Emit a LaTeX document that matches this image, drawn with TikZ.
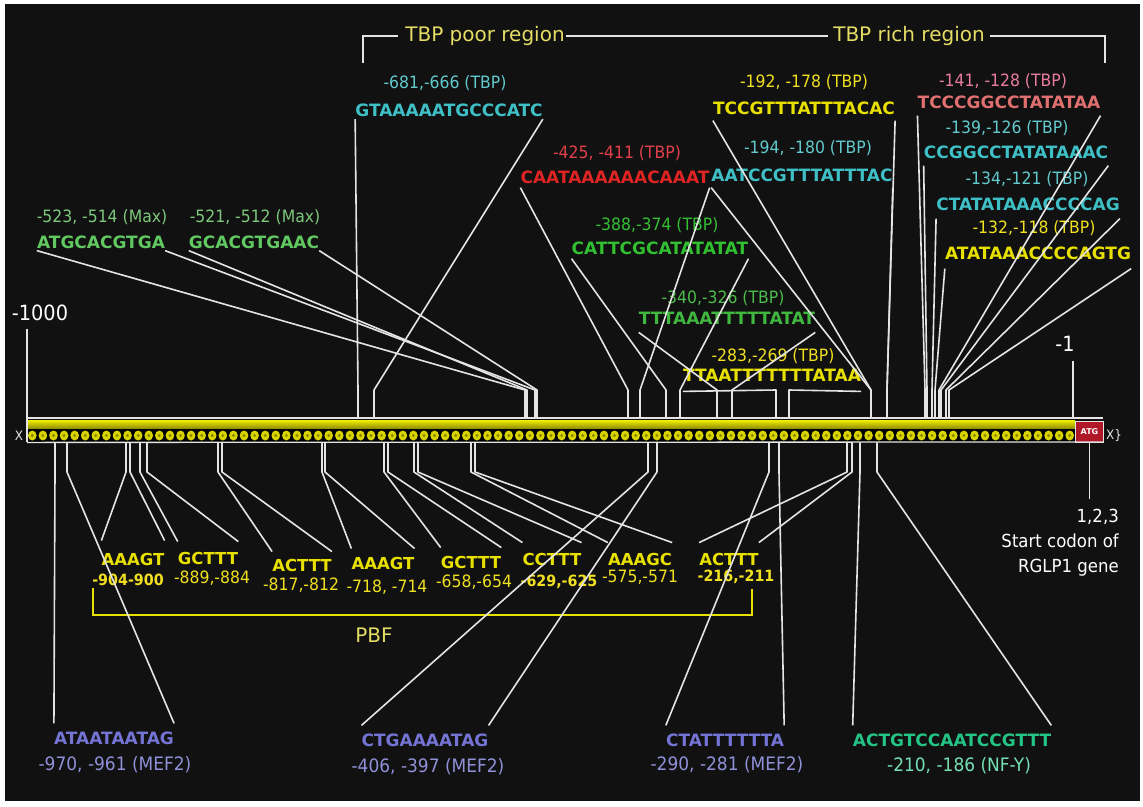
\documentclass[tikz,border=0pt]{standalone}
\usepackage{fontspec}
\setmainfont{DejaVu Sans}
\newfontfamily\numf[FakeStretch=0.92]{DejaVu Sans}
\newfontfamily\seqf{DejaVu Sans}
\definecolor{bg}{HTML}{111111}
\definecolor{lnc}{HTML}{E4E4E4}
\definecolor{maxN}{HTML}{7CC87C}
\definecolor{maxS}{HTML}{62C862}
\definecolor{cyN}{HTML}{62CACC}
\definecolor{cyS}{HTML}{3EC0C6}
\definecolor{redN}{HTML}{E0404C}
\definecolor{redS}{HTML}{E02424}
\definecolor{yelN}{HTML}{F0E020}
\definecolor{yelS}{HTML}{E8E000}
\definecolor{pinkN}{HTML}{E87CA0}
\definecolor{pinkS}{HTML}{E07070}
\definecolor{grN}{HTML}{34C034}
\definecolor{grS}{HTML}{30C030}
\definecolor{grbN}{HTML}{4CBC4C}
\definecolor{grbS}{HTML}{40B840}
\definecolor{mefN}{HTML}{9090D8}
\definecolor{mefS}{HTML}{7474D4}
\definecolor{nfN}{HTML}{74E0B4}
\definecolor{nfS}{HTML}{24C484}
\definecolor{regc}{HTML}{E4DC64}
\definecolor{atgred}{HTML}{B01828}
\definecolor{barY}{HTML}{F2F000}
\definecolor{barO}{HTML}{8A8600}
\definecolor{beadY}{HTML}{D8D400}
\begin{document}
\begin{tikzpicture}[x=1pt,y=-1pt,
  num/.style={inner sep=0pt, font=\numf\fontsize{17}{17}\selectfont},
  seq/.style={inner sep=0pt, font=\seqf\bfseries\fontsize{17}{17}\selectfont},
  bseq/.style={inner sep=0pt, text=yelS, font=\seqf\bfseries\fontsize{16.5}{16.5}\selectfont},
  bnum/.style={inner sep=0pt, text=yelN, font=\numf\fontsize{17}{17}\selectfont},
  bnumb/.style={inner sep=0pt, text=yelN, font=\numf\bfseries\fontsize{15.5}{15.5}\selectfont},
  mseq/.style={inner sep=0pt, font=\seqf\bfseries\fontsize{17}{17}\selectfont},
  mnum/.style={inner sep=0pt, font=\numf\fontsize{18.5}{18.5}\selectfont},
  wlbl/.style={inner sep=0pt, text=white, font=\numf\fontsize{18}{25}\selectfont},
  conn/.style={draw=lnc, line width=1.6pt, line join=round},
  brk/.style={draw=lnc, line width=2pt},
  region/.style={inner sep=5pt, text=regc, font=\fontsize{20}{20}\selectfont},
  pbfline/.style={draw=yelS, line width=2pt}]
\useasboundingbox (0,0) rectangle (1143,806);
\fill[white] (0,0) rectangle (1143,806);
\fill[bg] (5,4) rectangle (1140,801);
% helper coordinates
\coordinate (tb) at (0,390);
\coordinate (bb) at (0,472);
% ---------- bar ----------
\node[inner sep=0pt, minimum width=1048pt, minimum height=24pt, anchor=north west] (bar) at (27,418) {};
\shade[top color=barY, bottom color=barO] (27,420) rectangle (1075,429);
\fill[black] (27,429) rectangle (1075,442);
\foreach \i in {0,...,98} {
  \fill[beadY] ({32.3+10.586*\i},435.5) ellipse [x radius=4.3pt, y radius=5pt];
  \fill[barO] ({32.3+10.586*\i},435.5) circle [radius=1.6pt];
}
\node[minimum width=28pt, minimum height=21pt, inner sep=0pt, fill=atgred, draw=lnc, line width=1pt,
  text=white, font=\seqf\bfseries\fontsize{8}{8}\selectfont, anchor=north west] (atg) at (1075,420.5) {ATG};
\draw[lnc, line width=1.3pt] (bar.north west) -- (1103,418);
\draw[lnc, line width=1.3pt] (bar.south west) -- (1103,442);
\draw[lnc, line width=1.3pt] (bar.north west) -- (bar.south west);
\node[text=lnc, font=\numf\fontsize{13}{13}\selectfont] (xl) at (19,436) {X};
\node[text=lnc, font=\numf\fontsize{13}{13}\selectfont] (xr) at (1114,436) {X\}};
% ---------- region bracket ----------
\node[region] (poor) at (485,36) {TBP poor region};
\node[region] (rich) at (909,36) {TBP rich region};
\coordinate (brL) at (363,63);
\coordinate (brR) at (1105,63);
\draw[brk] ([xshift=-2pt]poor.west) -| (brL);
\draw[brk] ([xshift=-4pt]poor.east) -- (rich.west);
\draw[brk] (rich.east) -| (brR);
% ---------- end labels ----------
\node[inner sep=0pt, text=white, font=\numf\fontsize{21}{21}\selectfont] (m1000) at (40,313) {-1000};
\node[inner sep=0pt, text=white, font=\numf\fontsize{21}{21}\selectfont] (m1) at (1065,344) {-1};
\coordinate (e1000) at (27,0);
\coordinate (e1) at (1073,0);
\coordinate (u1000) at ([yshift=-8pt]m1000.south);
\coordinate (u1) at ([yshift=-9pt]m1.south);
\draw[conn] (e1000 |- u1000) -- (e1000 |- bar.north);
\draw[conn] (e1 |- u1) -- (e1 |- bar.north);
\node[wlbl, align=right, anchor=north east] (start) at (1119,509) {1,2,3\\Start codon of\\RGLP1 gene};
\coordinate (stTop) at ([yshift=10pt]start.north);
\draw[conn] (atg.south) -- (atg.south |- stTop);
% ---------- top labels ----------
\node[num, text=maxN] (n523) at (102,217) {-523, -514 (Max)};
\node[seq, text=maxS] (s523) at (101,242) {ATGCACGTGA};
\node[num, text=maxN] (n521) at (255,217) {-521, -512 (Max)};
\node[seq, text=maxS] (s521) at (254,242) {GCACGTGAAC};
\node[num, text=cyN] (n681) at (445,83) {-681,-666 (TBP)};
\node[seq, text=cyS] (s681) at (449,110) {GTAAAAATGCCCATC};
\node[num, text=cyN] (n194) at (808,148) {-194, -180 (TBP)};
\node[seq, text=cyS] (s194) at (802,175) {AATCCGTTTATTTAC};
\node[num, text=redN] (n425) at (617,153) {-425, -411 (TBP)};
\node[seq, text=redS] (s425) at (615,177) {CAATAAAAAACAAAT};
\node[num, text=yelN] (n192) at (804,82) {-192, -178 (TBP)};
\node[seq, text=yelS] (s192) at (804,108) {TCCGTTTATTTACAC};
\node[num, text=grN] (n388) at (657,225) {-388,-374 (TBP)};
\node[seq, text=grS] (s388) at (660,248) {CATTCGCATATATAT};
\node[num, text=grbN] (n340) at (723,298) {-340,-326 (TBP)};
\node[seq, text=grbS] (s340) at (727,318) {TTTAAATTTTTATAT};
\node[num, text=yelN] (n283) at (773,356) {-283,-269 (TBP)};
\node[seq, text=yelS] (s283) at (772,375) {TTAATTTTTTTATAA};
\node[num, text=pinkN] (n141) at (1003,81) {-141, -128 (TBP)};
\node[seq, text=pinkS] (s141) at (1009,102) {TCCCGGCCTATATAA};
\node[num, text=cyN] (n139) at (1007,128) {-139,-126 (TBP)};
\node[seq, text=cyS] (s139) at (1016,152) {CCGGCCTATATAAAC};
\node[num, text=cyN] (n134) at (1027,179) {-134,-121 (TBP)};
\node[seq, text=cyS] (s134) at (1028,204) {CTATATAAACCCCAG};
\node[num, text=yelN] (n132) at (1034,228) {-132,-118 (TBP)};
\node[seq, text=yelS] (s132) at (1038,253) {ATATAAACCCCAGTG};
% ---------- bottom labels ----------
\node[bseq] (sA1) at (133,559) {AAAGT};
\node[bnumb] (nA1) at (128,580) {-904-900};
\node[bseq] (sG1) at (208,558) {GCTTT};
\node[bnum] (nG1) at (212,578) {-889,-884};
\node[bseq] (sAc1) at (302,565) {ACTTT};
\node[bnum] (nAc1) at (301,585) {-817,-812};
\node[bseq] (sA2) at (383,563) {AAAGT};
\node[bnum] (nA2) at (387,587) {-718, -714};
\node[bseq] (sG2) at (471,562) {GCTTT};
\node[bnum] (nG2) at (474,582) {-658,-654};
\node[bseq] (sC) at (552,559) {CCTTT};
\node[bnumb] (nC) at (559,582) {-629,-625};
\node[bseq] (sAG) at (640,559) {AAAGC};
\node[bnum] (nAG) at (640,577) {-575,-571};
\node[bseq] (sAc2) at (729,559) {ACTTT};
\node[bnumb] (nAc2) at (736,577) {-216,-211};
\coordinate (pbL) at (93,615);
\coordinate (pbR) at (752,615);
\coordinate (pbLt) at (93,588);
\coordinate (pbRt) at (752,589);
\draw[pbfline] (pbLt) -- (pbL) -- (pbR) -- (pbRt);
\node[region, inner sep=0pt] (pbf) at (374,635) {PBF};
\node[mseq, text=mefS] (sM1) at (114,738) {ATAATAATAG};
\node[mnum, text=mefN] (nM1) at (115,765) {-970, -961 (MEF2)};
\node[mseq, text=mefS] (sM2) at (425,740) {CTGAAAATAG};
\node[mnum, text=mefN] (nM2) at (428,767) {-406, -397 (MEF2)};
\node[mseq, text=mefS] (sM3) at (725,740) {CTATTTTTTA};
\node[mnum, text=mefN] (nM3) at (727,765) {-290, -281 (MEF2)};
\node[mseq, text=nfS] (sNF) at (952,740) {ACTGTCCAATCCGTTT};
\node[mnum, text=nfN] (nNF) at (959,766) {-210, -186 (NF-Y)};
% ---------- top connectors ----------
\foreach \n/\a/\b/\s in {s681/358/374/2.5, s523/525/535/2, s521/527/537/2, s425/628/640/4,
    s388/666/680/4, s340/717/732/8, s283/776/789/10, s192/871/887/6, s194/871/887/6,
    s141/925/939/7, s139/927/941/7, s134/932/946/8, s132/935/949/9} {
  \draw[conn] ([yshift=-\s pt]\n.south west) -- (\a,0 |- tb) -- (\a,0 |- bar.north);
  \draw[conn] ([yshift=-\s pt]\n.south east) -- (\b,0 |- tb) -- (\b,0 |- bar.north);
}
% ---------- bottom connectors ----------
\foreach \n/\a/\b/\s in {sM1/55/67/8, sA1/126/130/12, sG1/140/147/10, sAc1/218/222/7,
    sA2/322/325/8, sG2/384/388/8, sC/414/418/10, sAG/471/475/10, sM2/648/657/8,
    sM3/769/779/8, sAc2/847/852/10, sNF/860/877/8} {
  \draw[conn] (\a,0 |- bar.south) -- (\a,0 |- bb) -- ([yshift=\s pt]\n.north west);
  \draw[conn] (\b,0 |- bar.south) -- (\b,0 |- bb) -- ([yshift=\s pt]\n.north east);
}
\end{tikzpicture}
\end{document}
